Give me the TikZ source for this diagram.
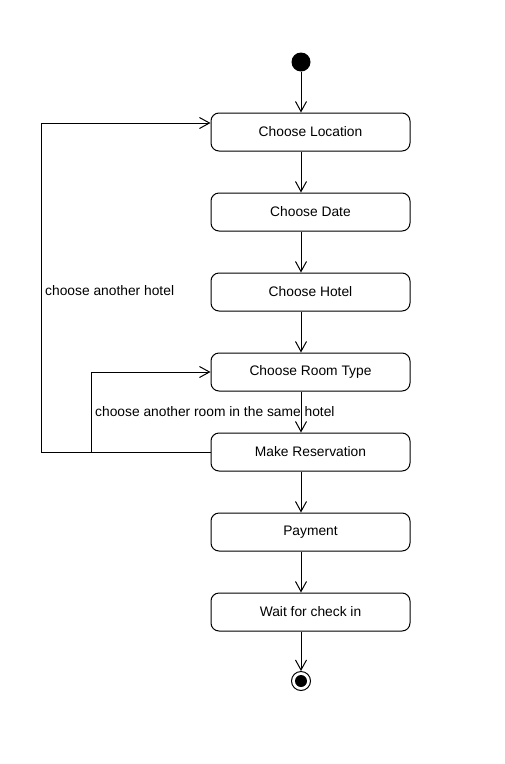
\documentclass[tikz,border=0pt]{standalone}
\usepackage{fontspec}
\setmainfont{Liberation Sans}
\usetikzlibrary{arrows.meta}
\begin{document}
\begin{tikzpicture}[x=1pt,y=-1pt,
  act/.style={draw,line width=1pt,rounded corners=8pt,minimum width=199pt,minimum height=38pt,inner sep=0pt,font=\fontsize{13.8}{16}\selectfont},
  flow/.style={line width=1pt,-{Straight Barb[length=10pt,width=11pt,line width=1pt]}},
  guard/.style={anchor=west,inner sep=0pt,font=\fontsize{13.8}{16}\selectfont}]

\useasboundingbox (0,0) rectangle (504,764);

\node[circle,fill=black,minimum size=19pt,inner sep=0pt] (start) at (301, 62) {};

\node[act] (loc) at (310.5, 132) {Choose Location};
\node[act] (date) at (310.5, 212) {Choose Date};
\node[act] (hotel) at (310.5, 292) {Choose Hotel};
\node[act] (room) at (310.5, 372) {Choose Room Type};
\node[act] (resv) at (310.5, 452) {Make Reservation};
\node[act] (pay) at (310.5, 532) {Payment};
\node[act] (wait) at (310.5, 612) {Wait for check in};

\node[circle,draw,line width=1pt,minimum size=19pt,inner sep=0pt] (stop) at (301, 681) {};
\node[circle,fill=black,minimum size=12pt,inner sep=0pt] at (stop) {};

\draw[flow] (start) -- (loc.north -| start);
\draw[flow] (loc.south -| start) -- (date.north -| start);
\draw[flow] (date.south -| start) -- (hotel.north -| start);
\draw[flow] (hotel.south -| start) -- (room.north -| start);
\draw[flow] (room.south -| start) -- (resv.north -| start);
\draw[flow] (resv.south -| start) -- (pay.north -| start);
\draw[flow] (pay.south -| start) -- (wait.north -| start);
\draw[flow] (wait.south -| start) -- (stop);

\coordinate (back1) at (41.5, 123);
\coordinate (back2) at (91.5, 452);

\draw[flow] (resv.west) -| (back1) -- (back1 -| loc.west);
\draw[flow] (back2) |- (room.west);

\node[guard] (g1) at (45, 291) {choose another hotel};
\node[guard] (g2) at (95, 412) {choose another room in the same hotel};

\end{tikzpicture}
\end{document}
